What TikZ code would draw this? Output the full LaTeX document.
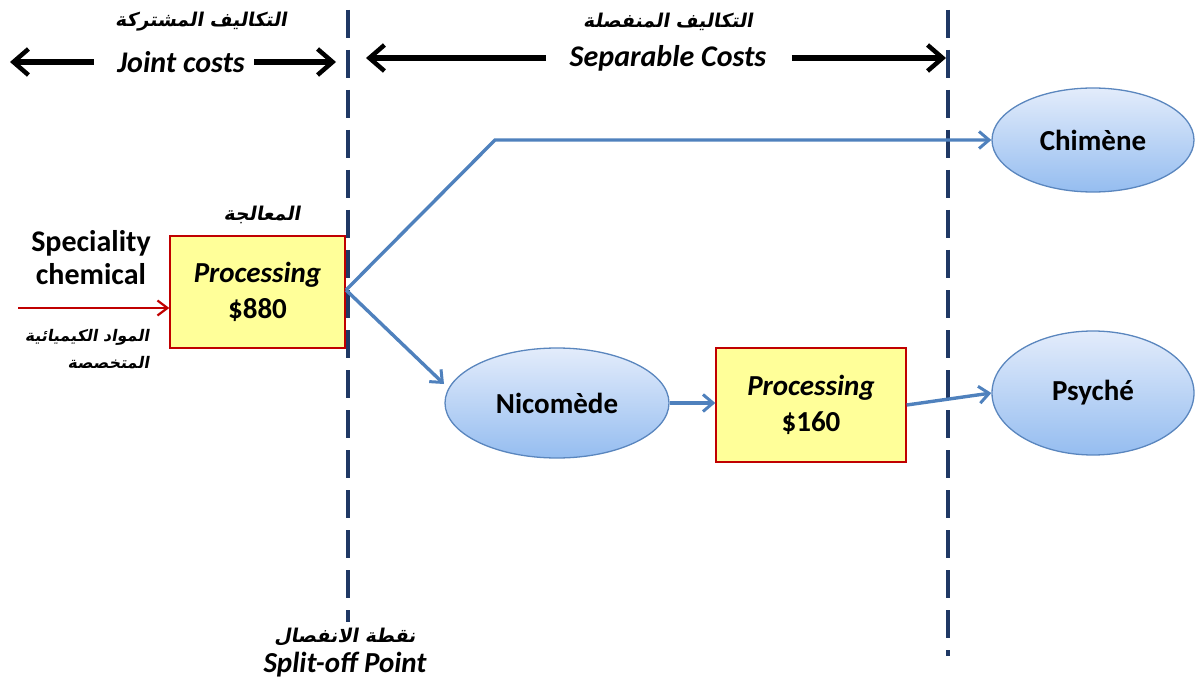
\documentclass[tikz,border=0pt]{standalone}
\usepackage{fontspec}
\setmainfont{Carlito}
\newfontfamily\arabicfont[Script=Arabic,FakeSlant=0.18]{DejaVu Sans Bold}
\TeXXeTstate=1
\usetikzlibrary{arrows.meta,shapes.geometric}
\definecolor{navy}{HTML}{1F3864}
\definecolor{flowblue}{HTML}{4F81BD}
\definecolor{boxfill}{HTML}{FFFF99}
\definecolor{boxline}{HTML}{C00000}
\definecolor{ovtop}{HTML}{E3ECFB}
\definecolor{ovbot}{HTML}{95BDF0}
\definecolor{ovline}{HTML}{5A86BE}
\tikzset{
  divider/.style={navy, line width=3.2pt, dash pattern=on 28pt off 12pt},
  spanarrow/.style={black, line width=5.5pt, -{Straight Barb[length=15pt,width=26pt,line width=4.5pt]}},
  flow/.style={flowblue, line width=3.4pt, -{Straight Barb[length=10pt,width=17pt,line width=3pt]}},
  feed/.style={boxline, line width=2.4pt, -{Straight Barb[length=10pt,width=15pt,line width=2.2pt]}},
  costbox/.style={draw=boxline, fill=boxfill, line width=1.4pt, minimum width=175pt, minimum height=112pt, inner sep=0pt, align=center, font=\fontsize{29}{36}\selectfont\bfseries},
  product/.style={ellipse, draw=ovline, line width=1.3pt, top color=ovtop, bottom color=ovbot, inner sep=0pt, font=\fontsize{29}{32}\selectfont\bfseries},
  latin/.style={font=\fontsize{30}{33}\selectfont\bfseries, align=center},
  arab/.style={font=\arabicfont\fontsize{19}{30}\selectfont, align=center, inner sep=0pt}
}
\begin{document}
\begin{tikzpicture}[x=1pt,y=-1pt]
\useasboundingbox (0,0) rectangle (1197,687);
% split-off and end-of-processing dividers
\coordinate (d1t) at (348,10);
\coordinate (d1b) at (348,622);
\coordinate (d2t) at (948,10);
\coordinate (d2b) at (948,656);
\draw[divider] (d1t) -- (d1b);
\draw[divider] (d2t) -- (d2b);

% cost-span headings
\node[latin, font=\fontsize{30}{33}\selectfont\bfseries\itshape] (joint) at (181,62) {Joint costs};
\node[arab] (jointar) at (201,22) {\beginR التكاليف المشتركة\endR};
\node[latin, font=\fontsize{30}{33}\selectfont\bfseries\itshape] (sep) at (668,58) {Separable Costs};
\node[arab] (separ) at (668,22) {\beginR التكاليف المنفصلة\endR};
\coordinate (jl) at (10,62);
\coordinate (jr) at (336,62);
\coordinate (sl) at (366,58);
\coordinate (sr) at (946,58);
\draw[spanarrow] (joint.west) ++(-20,0) -- (jl);
\draw[spanarrow] (joint.east) ++(6,0) -- (jr);
\draw[spanarrow] (sep.west) ++(-20,0) -- (sl);
\draw[spanarrow] (sep.east) ++(22,0) -- (sr);

% joint process
\node[costbox] (proc1) at (257.5,292) {\itshape Processing\\ \$880};
\node[arab] (proc1ar) at (262,215) {\beginR المعالجة\endR};

% raw material input
\node[latin] (raw) at (91,258) {Speciality\\chemical};
\node[arab, align=right, font=\arabicfont\fontsize{16}{27}\selectfont] (rawar) at (87,349) {\beginR المواد الكيميائية\endR\\\beginR المتخصصة\endR};
\coordinate (rawin) at (18,308);
\draw[feed] (rawin) -- (proc1.west |- rawin);

% products
\node[product, minimum width=202pt, minimum height=104pt] (chim) at (1093,140) {Chimène};
\node[product, minimum width=224pt, minimum height=110pt] (nico) at (557,403) {Nicomède};
\node[product, minimum width=202pt, minimum height=124pt] (psy) at (1093,393) {Psyché};

% separate process
\node[costbox, minimum width=190pt, minimum height=114pt] (proc2) at (811,405) {\itshape Processing\\ \$160};

% flows
\coordinate (split) at (346,290);
\coordinate (bend) at (495,140);
\draw[flow] (split) -- (bend) -- (chim.west);
\draw[flow] (split) -- (444,384);
\draw[flow] (nico.east) -- (proc2.west |- nico.east);
\draw[flow] (proc2.east) -- (psy.west);

% split-off label
\node[arab] (splitar) at (345,637) {\beginR نقطة الانفصال\endR};
\node[latin, font=\fontsize{29}{30}\selectfont\bfseries\itshape] (splitlbl) at (345,665) {Split-off Point};
\end{tikzpicture}
\end{document}
